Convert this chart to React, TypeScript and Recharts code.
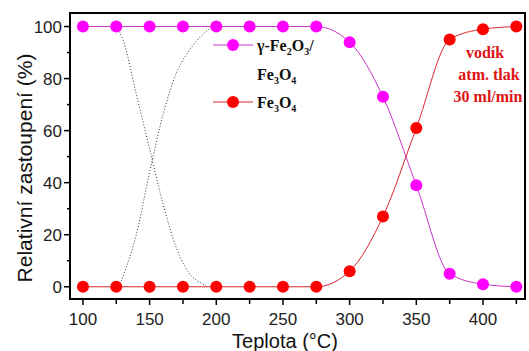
import React from "react";
import { LineChart, Line, XAxis, YAxis } from "recharts";

const temps = [100, 125, 150, 175, 200, 225, 250, 275, 300, 325, 350, 375, 400, 425];
const gammaFe2O3 = [100, 100, 100, 100, 100, 100, 100, 100, 94, 73, 39, 5, 1, 0];
const fe3o4 = [0, 0, 0, 0, 0, 0, 0, 0, 6, 27, 61, 95, 99, 100];

const dottedDownX = [125, 130, 140, 150, 160, 170, 180, 190, 193];
const dottedDownY = [100, 95, 74, 53, 32, 15, 5, 1, 0];
const dottedUpX = [127, 130, 140, 150, 160, 170, 180, 190, 197];
const dottedUpY = [0, 4, 20, 44, 66, 82, 91, 97, 100];

const xTicks = [100, 125, 150, 175, 200, 225, 250, 275, 300, 325, 350, 375, 400, 425];
const yTicks = [0, 10, 20, 30, 40, 50, 60, 70, 80, 90, 100];

const mainData = temps.map((t, i) => ({ t, g: gammaFe2O3[i], f: fe3o4[i] }));
const downData = dottedDownX.map((t, i) => ({ t, v: dottedDownY[i] }));
const upData = dottedUpX.map((t, i) => ({ t, v: dottedUpY[i] }));

const W = 529;
const H = 351;
const sans = "'Liberation Sans', Arial, sans-serif";
const serif = "'Liberation Serif', 'Times New Roman', serif";

const XTick = (props: any) => {
  const { x, y, payload } = props;
  const major = payload.value % 50 === 0;
  return (
    <g>
      <line x1={x} x2={x} y1={y} y2={y + (major ? 6 : 5)} stroke="#000" strokeWidth={1.5} />
      {major && (
        <text x={x} y={y + 26} textAnchor="middle" fontSize={17} fontFamily={sans} fill="#222">
          {payload.value}
        </text>
      )}
    </g>
  );
};

const YTick = (props: any) => {
  const { x, y, payload } = props;
  const major = payload.value % 20 === 0;
  return (
    <g>
      <line x1={x} x2={x - (major ? 6 : 3)} y1={y} y2={y} stroke="#000" strokeWidth={1.5} />
      {major && (
        <text x={x - 8} y={y + 6} textAnchor="end" fontSize={17} fontFamily={sans} fill="#222">
          {payload.value}
        </text>
      )}
    </g>
  );
};

export default function App() {
  return (
    <div style={{ position: "absolute", left: 0, top: 0, width: W, height: H, background: "#fff" }}>
      <LineChart width={W} height={H} margin={{ top: 13, right: 4, left: 0, bottom: 0 }} data={mainData}>
        <XAxis
          dataKey="t"
          type="number"
          domain={[90.3, 431.5]}
          ticks={xTicks}
          interval={0}
          height={52}
          tickSize={0}
          tickMargin={0}
          tick={<XTick />}
          axisLine={{ stroke: "#000", strokeWidth: 2 }}
          tickLine={false}
        />
        <YAxis
          type="number"
          domain={[-4.7, 105.2]}
          ticks={yTicks}
          interval={0}
          width={70}
          tickSize={0}
          tickMargin={0}
          tick={<YTick />}
          axisLine={{ stroke: "#000", strokeWidth: 2 }}
          tickLine={false}
        />
        <Line
          data={downData}
          dataKey="v"
          type="monotone"
          stroke="#333"
          strokeWidth={1}
          strokeDasharray="1 2"
          dot={false}
          isAnimationActive={false}
        />
        <Line
          data={upData}
          dataKey="v"
          type="monotone"
          stroke="#333"
          strokeWidth={1}
          strokeDasharray="1 2"
          dot={false}
          isAnimationActive={false}
        />
        <Line
          dataKey="f"
          type="monotone"
          stroke="#d8262b"
          strokeWidth={1}
          dot={{ r: 6, fill: "#ff0000", stroke: "none" }}
          isAnimationActive={false}
        />
        <Line
          dataKey="g"
          type="monotone"
          stroke="#cc33cc"
          strokeWidth={1}
          dot={{ r: 6, fill: "#ff00ff", stroke: "none" }}
          isAnimationActive={false}
        />
      </LineChart>
      <svg
        width={W}
        height={H}
        style={{ position: "absolute", left: 0, top: 0, pointerEvents: "none" }}
      >
        <rect x={70} y={13} width={455} height={286} fill="none" stroke="#000" strokeWidth={2} />
        {/* legend */}
        <line x1={213} x2={253} y1={45} y2={45} stroke="#cc33cc" strokeWidth={1.2} />
        <circle cx={233} cy={45} r={6} fill="#ff00ff" />
        <text x={257} y={51} fontFamily={serif} fontWeight="bold" fontSize={16} fill="#111">
          γ-Fe<tspan fontSize={10} dy={4}>2</tspan>
          <tspan dy={-4}>O</tspan>
          <tspan fontSize={10} dy={4}>3</tspan>
          <tspan dy={-4}>/</tspan>
        </text>
        <text x={257} y={80} fontFamily={serif} fontWeight="bold" fontSize={16} fill="#111">
          Fe<tspan fontSize={10} dy={4}>3</tspan>
          <tspan dy={-4}>O</tspan>
          <tspan fontSize={10} dy={4}>4</tspan>
        </text>
        <line x1={213} x2={253} y1={102} y2={102} stroke="#d8262b" strokeWidth={1.2} />
        <circle cx={233} cy={102} r={6} fill="#ff0000" />
        <text x={257} y={108} fontFamily={serif} fontWeight="bold" fontSize={16} fill="#111">
          Fe<tspan fontSize={10} dy={4}>3</tspan>
          <tspan dy={-4}>O</tspan>
          <tspan fontSize={10} dy={4}>4</tspan>
        </text>
        {/* annotation */}
        <g fontFamily={serif} fontWeight="bold" fontSize={16} fill="#e01414" textAnchor="middle">
          <text x={485} y={58}>vodík</text>
          <text x={489} y={80}>atm. tlak</text>
          <text x={488} y={102}>30 ml/min</text>
        </g>
        {/* axis titles */}
        <text x={285} y={348} textAnchor="middle" fontFamily={sans} fontSize={20} fill="#111">
          Teplota (°C)
        </text>
        <text
          x={0}
          y={0}
          transform="translate(32,168) rotate(-90)"
          textAnchor="middle"
          fontFamily={sans}
          fontSize={21}
          fill="#111"
        >
          Relativní zastoupení (%)
        </text>
      </svg>
    </div>
  );
}
